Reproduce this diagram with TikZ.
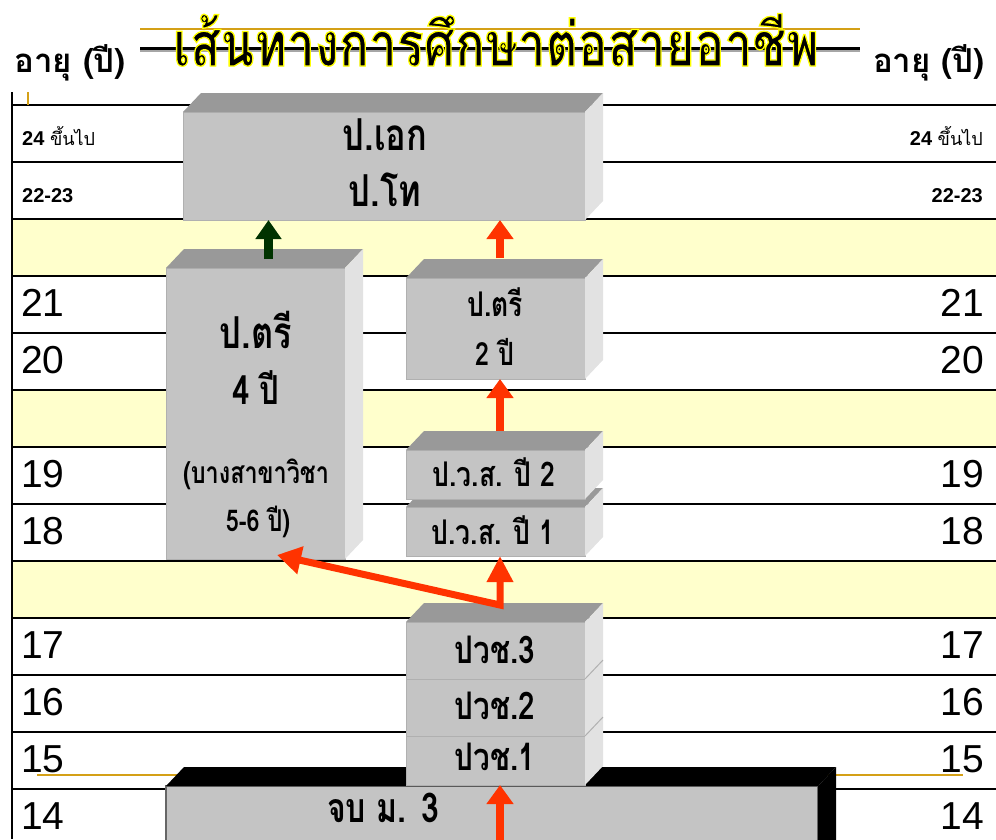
\documentclass[tikz,border=0pt]{standalone}
\usepackage{fontspec}
\setmainfont{Liberation Sans}
\newfontfamily\thaifont[Script=Thai]{Loma}
\newfontfamily\thainar[Script=Thai,FakeStretch=0.78]{Loma}
\newfontfamily\titlefont[Script=Thai,FakeStretch=0.80]{Loma}
\usetikzlibrary{arrows.meta}
\definecolor{frontc}{HTML}{C4C4C4}
\definecolor{topc}{HTML}{999999}
\definecolor{sidec}{HTML}{E2E2E2}
\definecolor{edgec}{HTML}{B0B0B0}
\definecolor{band}{HTML}{FFFFCC}
\definecolor{arrowred}{HTML}{FF3300}
\definecolor{darkgreen}{HTML}{003300}
\definecolor{gold}{HTML}{D4A017}
\newcommand\fs[1]{\fontsize{#1}{#1}\selectfont}
\newcommand\topface[2]{%
 \fill[#2] (#1.north west) -- ++(18,-19) -- ([shift={(18,-19)}]#1.north east) -- (#1.north east) -- cycle;}
\newcommand\sideface[2]{%
 \fill[#2] (#1.north east) -- ++(18,-19) -- ([shift={(18,-19)}]#1.south east) -- (#1.south east) -- cycle;}
\newcommand\solidbox[3]{\topface{#1}{#2}\sideface{#1}{#3}}
\tikzset{
 front/.style={fill=frontc, draw=edgec, line width=1pt, inner sep=0pt, outer sep=0pt, anchor=north west},
 rowline/.style={line width=2pt, black},
 num/.style={inner sep=0pt, font=\fs{39}},
 small/.style={inner sep=0pt, font=\fs{20}\bfseries},
 lbl/.style={inner sep=0pt, font=\thainar\fs{44}\bfseries},
 redarrow/.style={draw=arrowred, line width=8pt, -{Triangle[width=26pt,length=19pt]}},
 greenarrow/.style={draw=darkgreen, line width=9pt, -{Triangle[width=25pt,length=19pt]}},
}
\begin{document}
\begin{tikzpicture}[x=1pt,y=-1pt]
\useasboundingbox (0,0) rectangle (996,839);
\clip (0,0) rectangle (996,839);
% bands
\foreach \y in {219,390,561} {\fill[band] (12,\y) rectangle (996,\y+57);}
% row lines
\foreach \y in {105,162,219,276,333,390,447,504,561,618,675,732,789} {\draw[rowline] (12,\y) -- (996,\y);}
\draw[line width=2.5pt] (12,92) -- (12,839);
\draw[gold, line width=1.5pt] (28,92) -- (28,105);
\draw[gold, line width=1.5pt] (37,775) -- (963,775);
% title lines
\draw[gold, line width=2pt] (140,29) -- (860,29);
\draw[gray!70, line width=1.5pt] (140,51) -- (860,51);
\draw[black, line width=3pt] (140,48.5) -- (860,48.5);
% title: black fill, yellow outline
\node[inner sep=0pt, anchor=base, black, font=\titlefont\fs{62}\bfseries] (title) at (496,66)
 {\special{pdf:literal direct 2 Tr 1.3 w 1 1 0 RG}เส้นทางการศึกษาต่อสายอาชีพ\special{pdf:literal direct 0 Tr}};
\node[inner sep=0pt, anchor=base west, font=\thaifont\fs{33}\bfseries] (ageL) at (14,72) {อายุ (ปี)};
\node[inner sep=0pt, anchor=base east, font=\thaifont\fs{33}\bfseries] (ageR) at (985,72) {อายุ (ปี)};
% age numbers
\foreach \n/\y in {21/276,20/333,19/447,18/504,17/618,16/675,15/732,14/789} {
 \node[num, anchor=base west] (L\n) at (21,\y+40) {\n};
 \node[num, anchor=base east] (R\n) at (984,\y+40) {\n};}
\node[small, anchor=base west] (L24) at (22,145) {24 {\thaifont\mdseries\fs{18}ขึ้นไป}};
\node[small, anchor=base east] (R24) at (983,145) {24 {\thaifont\mdseries\fs{18}ขึ้นไป}};
\node[small, anchor=base west] (L22) at (22,202) {22-23};
\node[small, anchor=base east] (R22) at (983,202) {22-23};
% grade 9 box
\node[front, fill=frontc, draw=black!60, line width=1.5pt, minimum width=652pt, minimum height=80pt] (m3) at (166,786) {};
\solidbox{m3}{black}{black}
\node[lbl, font=\thainar\fs{41}\bfseries] (m3t) at (383,808) {จบ ม. 3};
% doctorate box
\node[front, minimum width=402pt, minimum height=108pt] (phd) at (183,112) {};
\solidbox{phd}{topc}{sidec}
\node[lbl] (phdt) at (385,135) {ป.เอก};
\node[lbl] (mast) at (385,190) {ป.โท};
% 4-year bachelor
\node[front, minimum width=179pt, minimum height=291pt] (ptl) at (166,268) {};
\solidbox{ptl}{topc}{sidec}
\node[lbl] (ptlt) at (256,330) {ป.ตรี};
\node[lbl, font=\thainar\fs{40}\bfseries] (ptl4) at (256,388) {4 ปี};
\node[lbl, font=\thainar\fs{30}\bfseries] (ptls) at (256,474) {(บางสาขาวิชา};
\node[lbl, font=\thainar\fs{30}\bfseries] (ptl56) at (258,522) {5-6 ปี)};
% 2-year bachelor
\node[front, minimum width=179pt, minimum height=101pt] (pt2) at (406,278) {};
\solidbox{pt2}{topc}{sidec}
\node[lbl, font=\thainar\fs{34}\bfseries] (pt2t) at (495,302) {ป.ตรี};
\node[lbl, font=\thainar\fs{32}\bfseries] (pt22) at (495,352) {2 ปี};
% high vocational
\node[front, minimum width=179pt, minimum height=49pt] (pvs1) at (406,507) {};
\solidbox{pvs1}{topc}{sidec}
\node[front, minimum width=179pt, minimum height=49pt] (pvs2) at (406,450) {};
\solidbox{pvs2}{topc}{sidec}
\node[lbl, font=\thainar\fs{34}\bfseries] (pvs2t) at (494,472) {ป.ว.ส. ปี 2};
\node[lbl, font=\thainar\fs{34}\bfseries] (pvs1t) at (493,530) {ป.ว.ส. ปี 1};
% vocational
\node[front, minimum width=179pt, minimum height=49pt] (pvc1) at (406,736) {};
\node[front, minimum width=179pt, minimum height=57pt] (pvc2) at (406,679) {};
\node[front, minimum width=179pt, minimum height=57pt] (pvc3) at (406,622) {};
\sideface{pvc1}{sidec}
\sideface{pvc2}{sidec}
\solidbox{pvc3}{topc}{sidec}
\draw[edgec, line width=1pt] (pvc2.north east) -- ++(18,-19);
\draw[edgec, line width=1pt] (pvc1.north east) -- ++(18,-19);
\node[lbl, font=\thainar\fs{38}\bfseries] (pvc3t) at (495,650) {ปวช.3};
\node[lbl, font=\thainar\fs{38}\bfseries] (pvc2t) at (495,706) {ปวช.2};
\node[lbl, font=\thainar\fs{38}\bfseries] (pvc1t) at (495,757) {ปวช.1};
% arrows
\coordinate (g0) at (268.5,259);
\draw[greenarrow] (g0) -- (g0 |- phd.south);
\coordinate (r1) at (500,258);
\draw[redarrow] (r1) -- (r1 |- phd.south);
\coordinate (r2) at (500,431);
\draw[redarrow] (r2) -- (r2 |- pt2.south);
\coordinate (turn) at (500,605);
\coordinate (tipL) at (277,555);
\draw[draw=arrowred, line width=7pt, line join=miter, {Triangle[width=27pt,length=24pt]}-{Triangle[width=25pt,length=26pt]}] (tipL) -- (turn) -- (turn |- pvs1.south);
\coordinate (r0) at (500,845);
\draw[redarrow] (r0) -- (r0 |- pvc1.south);
\end{tikzpicture}
\end{document}
